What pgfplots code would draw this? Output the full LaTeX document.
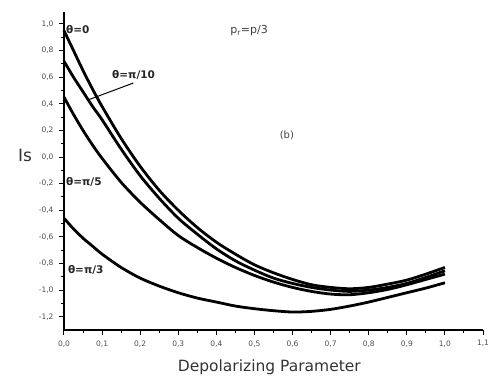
\documentclass[border=0pt]{standalone}
\usepackage{pgfplots}
\pgfplotsset{compat=1.18}
\usepackage{fontspec}
\setmainfont{DejaVu Sans}
\pgfplotstableread{
x y
0 0.95
0.025 0.80
0.05 0.65
0.075 0.51
0.1 0.38
0.15 0.14
0.2 -0.07
0.25 -0.25
0.3 -0.40
0.35 -0.53
0.4 -0.64
0.45 -0.73
0.5 -0.81
0.55 -0.87
0.6 -0.92
0.65 -0.96
0.7 -0.98
0.75 -0.99
0.8 -0.98
0.85 -0.955
0.9 -0.925
0.95 -0.88
1.0 -0.83
}\curveA
\pgfplotstableread{
x y
0 0.72
0.025 0.60
0.05 0.49
0.075 0.38
0.1 0.28
0.15 0.06
0.2 -0.14
0.25 -0.31
0.3 -0.46
0.35 -0.58
0.4 -0.69
0.45 -0.78
0.5 -0.85
0.55 -0.91
0.6 -0.95
0.65 -0.98
0.7 -1.00
0.75 -1.01
0.8 -1.00
0.85 -0.98
0.9 -0.95
0.95 -0.905
1.0 -0.855
}\curveB
\pgfplotstableread{
x y
0 0.45
0.025 0.32
0.05 0.20
0.075 0.09
0.1 -0.01
0.15 -0.19
0.2 -0.34
0.25 -0.47
0.3 -0.59
0.35 -0.68
0.4 -0.76
0.45 -0.83
0.5 -0.89
0.55 -0.94
0.6 -0.98
0.65 -1.01
0.7 -1.03
0.75 -1.035
0.8 -1.02
0.85 -0.995
0.9 -0.96
0.95 -0.92
1.0 -0.88
}\curveC
\pgfplotstableread{
x y
0 -0.46
0.025 -0.54
0.05 -0.61
0.075 -0.67
0.1 -0.73
0.15 -0.83
0.2 -0.91
0.25 -0.97
0.3 -1.02
0.35 -1.06
0.4 -1.09
0.45 -1.12
0.5 -1.14
0.55 -1.155
0.6 -1.165
0.65 -1.16
0.7 -1.145
0.75 -1.12
0.8 -1.09
0.85 -1.055
0.9 -1.02
0.95 -0.985
1.0 -0.945
}\curveD
\begin{document}
\begin{tikzpicture}
\path[use as bounding box] (-64pt,-49pt) rectangle (424pt,330pt);
\begin{axis}[
  scale only axis, width=419pt, height=318pt,
  xmin=0, xmax=1.1, ymin=-1.3, ymax=1.09,
  axis x line*=bottom, axis y line*=left,
  axis line style={line width=1.4pt},
  tick align=outside,
  major tick length=5pt, minor tick length=3pt,
  every tick/.style={black, line width=1pt},
  xtick={0,0.1,0.2,0.3,0.4,0.5,0.6,0.7,0.8,0.9,1.0,1.1},
  ytick={-1.2,-1.0,-0.8,-0.6,-0.4,-0.2,0,0.2,0.4,0.6,0.8,1.0},
  minor x tick num=1, minor y tick num=1,
  /pgf/number format/.cd, use comma, fixed, fixed zerofill, precision=1, assume math mode=true,
  /pgfplots/.cd,
  tick label style={font=\fontsize{7.5}{9}\selectfont, text=black!70},
  yticklabel style={xshift=-2pt},
  xticklabel style={yshift=-2pt},
  xlabel={Depolarizing Parameter},
  ylabel={Is},
  x label style={at={(axis description cs:0.49,-0.116)}, anchor=center, font=\fontsize{15.5}{18}\selectfont, text=black!80},
  y label style={at={(axis description cs:-0.093,0.55)}, rotate=-90, anchor=center, font=\fontsize{17}{20}\selectfont, text=black!80},
  clip=false,
]
\addplot[black, line width=2.8pt, smooth] table {\curveA};
\addplot[black, line width=2.8pt, smooth] table {\curveB};
\addplot[black, line width=2.8pt, smooth] table {\curveC};
\addplot[black, line width=2.8pt, smooth] table {\curveD};
\draw[black, line width=1pt] (axis cs:0.182,0.556) -- (axis cs:0.064,0.43);
\node[anchor=west, font=\fontsize{10.5}{12}\bfseries, inner sep=0pt, text=black!85] at (axis cs:0.005,0.96) {θ=0};
\node[anchor=west, font=\fontsize{10.5}{12}\bfseries, inner sep=0pt, text=black!85] at (axis cs:0.126,0.62) {θ=π/10};
\node[anchor=west, font=\fontsize{10.5}{12}\bfseries, inner sep=0pt, text=black!85] at (axis cs:0.005,-0.19) {θ=π/5};
\node[anchor=west, font=\fontsize{10.5}{12}\bfseries, inner sep=0pt, text=black!85] at (axis cs:0.01,-0.85) {θ=π/3};
\node[anchor=west, font=\fontsize{11}{12}\selectfont, inner sep=0pt, text=black!75] at (axis cs:0.436,0.95) {p\textsubscript{r}=p/3};
\node[font=\fontsize{10}{11}\selectfont, inner sep=0pt, text=black!75] at (axis cs:0.585,0.16) {(b)};
\end{axis}
\end{tikzpicture}
\end{document}
